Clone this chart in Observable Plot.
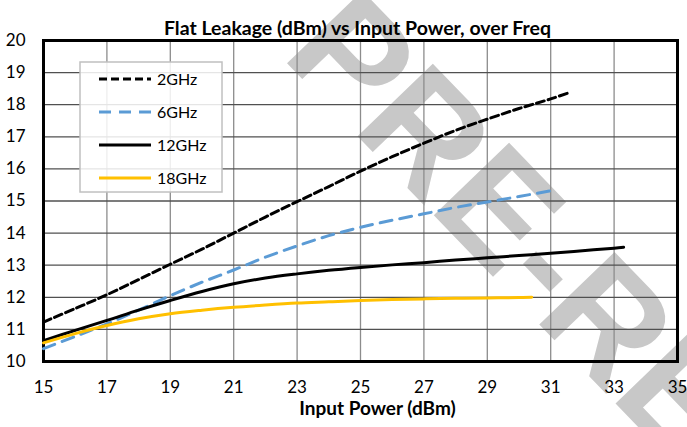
<!DOCTYPE html>
<html><head><meta charset="utf-8">
<script src="https://cdn.jsdelivr.net/npm/d3@7"></script>
<script src="https://cdn.jsdelivr.net/npm/@observablehq/plot@0.6"></script>
<style>html,body{margin:0;padding:0;background:#fff}#chart svg{display:block}</style>
</head><body><div id="chart"></div>
<script>
const titleText = "Flat Leakage (dBm) vs Input Power, over Freq";
const xLabel = "Input Power (dBm)";
const watermark = "PRE-RELEASE";
const xTicks = [15, 17, 19, 21, 23, 25, 27, 29, 31, 33, 35];
const yTicks = [10, 11, 12, 13, 14, 15, 16, 17, 18, 19, 20];
const seriesNames = ["2GHz", "6GHz", "12GHz", "18GHz"];
const seriesColors = ["#000000", "#5b9bd5", "#000000", "#ffc000"];
const seriesDash = ["8,4", "12,8", null, null];

const power2 = [15, 16, 17, 18, 19, 20, 21, 22, 23, 24, 25, 26, 27, 28, 29, 30, 31, 31.6];
const leak2  = [11.23, 11.65, 12.08, 12.55, 13.03, 13.5, 14.0, 14.5, 14.98, 15.45, 15.93, 16.38, 16.8, 17.2, 17.55, 17.88, 18.18, 18.38];
const power6 = [15, 16, 17, 18, 19, 20, 21, 22, 23, 24, 25, 26, 27, 28, 29, 30, 31];
const leak6  = [10.4, 10.78, 11.17, 11.6, 12.05, 12.47, 12.85, 13.25, 13.6, 13.92, 14.18, 14.4, 14.6, 14.8, 14.97, 15.14, 15.32];
const power12 = [15, 16, 17, 18, 19, 20, 21, 22, 23, 24, 25, 26, 27, 28, 29, 30, 31, 32, 33, 33.3];
const leak12  = [10.65, 10.97, 11.28, 11.6, 11.9, 12.18, 12.42, 12.6, 12.73, 12.84, 12.93, 13.01, 13.08, 13.16, 13.23, 13.3, 13.37, 13.45, 13.53, 13.56];
const power18 = [15, 16, 17, 18, 19, 20, 21, 22, 23, 24, 25, 26, 27, 28, 29, 30, 30.4];
const leak18  = [10.58, 10.87, 11.12, 11.33, 11.49, 11.6, 11.69, 11.76, 11.82, 11.86, 11.9, 11.93, 11.95, 11.97, 11.98, 11.99, 12.0];

const seriesData = [[power2, leak2], [power6, leak6], [power12, leak12], [power18, leak18]];
const rows = [];
seriesData.forEach(([p, l], i) => p.forEach((x, j) => rows.push({series: seriesNames[i], power: x, leak: l[j]})));

function watermarkMark(index, scales, values, dims) {
  const g = d3.create("svg:g");
  g.append("text")
    .attr("transform", `translate(${dims.marginLeft + 237},${dims.marginTop + 16}) rotate(46)`)
    .attr("text-anchor", "start")
    .attr("font-family", "Liberation Sans, Arial, sans-serif")
    .attr("font-weight", "bold")
    .attr("font-size", 152)
    .attr("fill", "#c8c8c8")
    .text(watermark);
  return g.node();
}

function legendMark(index, scales, values, dims) {
  const x0 = dims.marginLeft + 37, y0 = dims.marginTop + 22;
  const g = d3.create("svg:g");
  g.append("rect").attr("x", x0).attr("y", y0).attr("width", 142).attr("height", 130)
    .attr("fill", "white").attr("fill-opacity", 0.85)
    .attr("stroke", "#c0c0c0").attr("stroke-width", 1.5);
  seriesNames.forEach((name, i) => {
    const cy = y0 + 17 + i * 33;
    const ln = g.append("line").attr("x1", x0 + 19).attr("x2", x0 + 71).attr("y1", cy).attr("y2", cy)
      .attr("stroke", seriesColors[i]).attr("stroke-width", 3);
    if (seriesDash[i]) ln.attr("stroke-dasharray", seriesDash[i]);
    g.append("text").attr("x", x0 + 77).attr("y", cy).attr("dy", "0.35em")
      .attr("text-anchor", "start").attr("font-size", 16).attr("fill", "#000").text(name);
  });
  return g.node();
}

const lineMarks = seriesNames.map((name, i) => Plot.line(rows.filter(d => d.series === name), {
  x: "power", y: "leak", stroke: seriesColors[i], strokeWidth: 3,
  strokeDasharray: seriesDash[i] || undefined, curve: "catmull-rom"
}));

const chart = Plot.plot({
  width: 687, height: 427,
  marginLeft: 43, marginRight: 10, marginTop: 40, marginBottom: 66,
  style: {fontFamily: "Lato, sans-serif", fontSize: "16px", color: "#000", background: "#fff"},
  x: {domain: [15, 35], label: null},
  y: {domain: [10, 20], label: null},
  marks: [
    watermarkMark,
    Plot.gridX(xTicks, {stroke: "#8c8c8c", strokeOpacity: 1, strokeWidth: 1.3}),
    Plot.gridY(yTicks, {stroke: "#505050", strokeOpacity: 1, strokeWidth: 1.3}),
    Plot.frame({stroke: "#000", strokeWidth: 3}),
    ...lineMarks,
    legendMark,
    Plot.axisX(xTicks, {tickSize: 0, tickPadding: 19, fontSize: 17, label: null}),
    Plot.axisY(yTicks, {tickSize: 0, tickPadding: 18, fontSize: 17, label: null}),
    Plot.text([titleText], {text: d => d, frameAnchor: "top", dy: -19, dx: -3, fontWeight: "bold", fontSize: 19.5}),
    Plot.text([xLabel], {text: d => d, frameAnchor: "bottom", dy: 53, dx: 17, fontWeight: "bold", fontSize: 19})
  ]
});
document.getElementById("chart").appendChild(chart);
</script>
</body></html>
